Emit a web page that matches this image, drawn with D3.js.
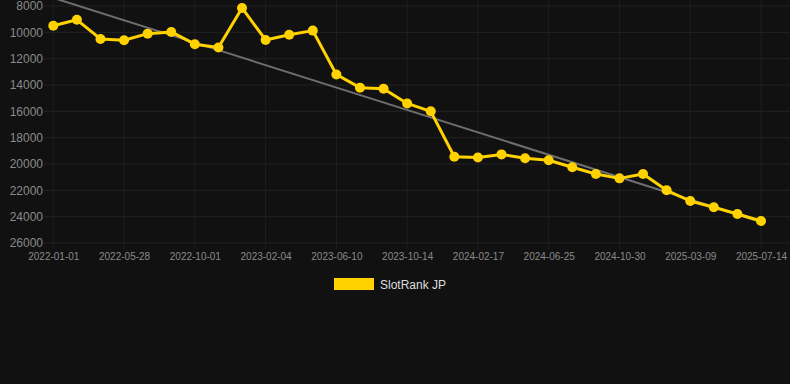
<!DOCTYPE html>
<html><head><meta charset="utf-8">
<script src="https://cdn.jsdelivr.net/npm/d3@7"></script>
<style>
html,body{margin:0;padding:0;background:#111111;}
svg{display:block;}
text{font-family:"Liberation Sans",Arial,sans-serif;}
</style></head>
<body><svg id="c" width="790" height="384"></svg>
<script>
const dates = ["2022-01-01","2022-02-19","2022-04-09","2022-05-28","2022-07-09","2022-08-20","2022-10-01","2022-11-12","2022-12-24","2023-02-04","2023-03-18","2023-04-29","2023-06-10","2023-07-22","2023-09-02","2023-10-14","2023-11-25","2024-01-06","2024-02-17","2024-03-30","2024-05-13","2024-06-25","2024-08-05","2024-09-18","2024-10-30","2024-12-12","2025-01-24","2025-03-09","2025-04-19","2025-06-01","2025-07-14"];
const ranks = [9500,9050,10500,10600,10100,9970,10900,11150,8150,10580,10180,9870,13200,14200,14280,15400,16000,19450,19500,19270,19570,19720,20250,20760,21090,20760,22000,22810,23290,23800,24330];
const trend = [7385, 24400]; // trend line values at first and last date
const yTicks = [8000,10000,12000,14000,16000,18000,20000,22000,24000,26000];
const seriesName = "SlotRank JP";

const svg = d3.select("#c");
const x = d3.scalePoint().domain(dates).range([53.3, 761]);
const y = d3.scaleLinear().domain([8000, 26000]).range([6, 243]);
const xTicks = dates.filter((d,i)=> i%3===0);

// grid
const g = svg.append("g");
g.selectAll("line.h").data(yTicks).join("line")
  .attr("x1", 44).attr("x2", 790)
  .attr("y1", d=>y(d)).attr("y2", d=>y(d))
  .attr("stroke", "#232323").attr("stroke-width", 1);
g.selectAll("line.v").data(xTicks).join("line")
  .attr("x1", d=>x(d)).attr("x2", d=>x(d))
  .attr("y1", 0).attr("y2", 249)
  .attr("stroke", "#1f1f1f").attr("stroke-width", 1);

// axes
const yAxis = svg.append("g").attr("transform","translate(44,0)")
  .call(d3.axisLeft(y).tickValues(yTicks).tickSize(0).tickPadding(1).tickFormat(d3.format("d")));
yAxis.select(".domain").remove();
yAxis.selectAll("text").attr("fill","#8a8a8a").style("font-size","12px");

const xAxis = svg.append("g").attr("transform","translate(0,243)")
  .call(d3.axisBottom(x).tickValues(xTicks).tickSize(0).tickPadding(10));
xAxis.select(".domain").remove();
xAxis.selectAll("text").attr("fill","#8a8a8a").style("font-size","10px");

// trend line
svg.append("line")
  .attr("x1", x(dates[0])).attr("y1", y(trend[0]))
  .attr("x2", x(dates[dates.length-1])).attr("y2", y(trend[1]))
  .attr("stroke", "#6e6e6e").attr("stroke-width", 2);

// series
const col = "#ffd200";
svg.append("path").datum(ranks)
  .attr("fill","none").attr("stroke",col).attr("stroke-width",3).attr("stroke-linejoin","round")
  .attr("d", d3.line().x((d,i)=>x(dates[i])).y(d=>y(d)));
svg.selectAll("circle.p").data(ranks).join("circle")
  .attr("cx",(d,i)=>x(dates[i])).attr("cy",d=>y(d)).attr("r",5).attr("fill",col);

// legend
const lg = svg.append("g");
lg.append("rect").attr("x",334).attr("y",278).attr("width",40).attr("height",12).attr("fill",col);
lg.append("text").attr("x",380).attr("y",288.5).text(seriesName)
  .attr("fill","#dddddd").style("font-size","12px");
</script></body></html>
